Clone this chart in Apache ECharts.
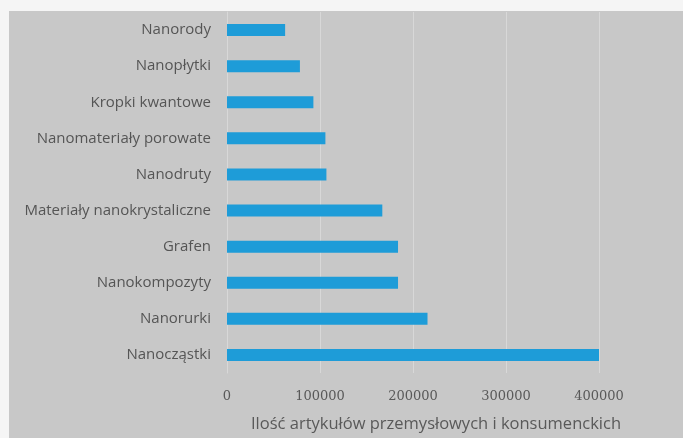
<!DOCTYPE html>
<html><head><meta charset="utf-8">
<script src="https://cdn.jsdelivr.net/npm/echarts@6/dist/echarts.min.js"></script>
<style>html,body{margin:0;padding:0;background:#f5f5f5;}#c{width:683px;height:438px;}</style>
</head><body><div id="c"></div>
<script>
var categories = ["Nanorody","Nanopłytki","Kropki kwantowe","Nanomateriały porowate","Nanodruty","Materiały nanokrystaliczne","Grafen","Nanokompozyty","Nanorurki","Nanocząstki"];
var values = [62500, 78400, 92900, 105800, 106900, 167000, 183900, 183900, 215600, 403100];
var xTicks = [0, 100000, 200000, 300000, 400000];
var axisTitle = "Ilość artykułów przemysłowych i konsumenckich";

var chart = echarts.init(document.getElementById('c'), null, {renderer:'canvas'});
var font = '"Open Sans", sans-serif';
chart.setOption({
  backgroundColor: '#f5f5f5',
  animation: false,
  graphic: [
    {type:'rect', left:9, top:11, shape:{width:674, height:427}, style:{fill:'#c8c8c8'}, z:-10},
    {type:'text', x:436, y:424, style:{text:axisTitle, fill:'#595959', font:'16.5px ' + font, textAlign:'center', textVerticalAlign:'middle'}}
  ],
  grid: {left:227, right:84, top:12, bottom:65, containLabel:false},
  xAxis: {
    type:'value', min:xTicks[0], max:xTicks[xTicks.length-1], interval:100000,
    axisLine:{show:false}, axisTick:{show:false},
    splitLine:{show:true, lineStyle:{color:'#d8d8d8', width:1}},
    axisLabel:{color:'#595959', fontFamily:'"DejaVu Serif", serif', fontSize:13, margin:17,
      formatter:function(v){return String(v);}}
  },
  yAxis: {
    type:'category', data:categories, inverse:true,
    axisLine:{show:true, lineStyle:{color:'#d8d8d8'}}, axisTick:{show:false},
    axisLabel:{color:'#555555', fontFamily:font, fontSize:15, margin:16}
  },
  series: [{type:'bar', data:values, barWidth:12, itemStyle:{color:'#1e9cd8'}}]
});
</script></body></html>
